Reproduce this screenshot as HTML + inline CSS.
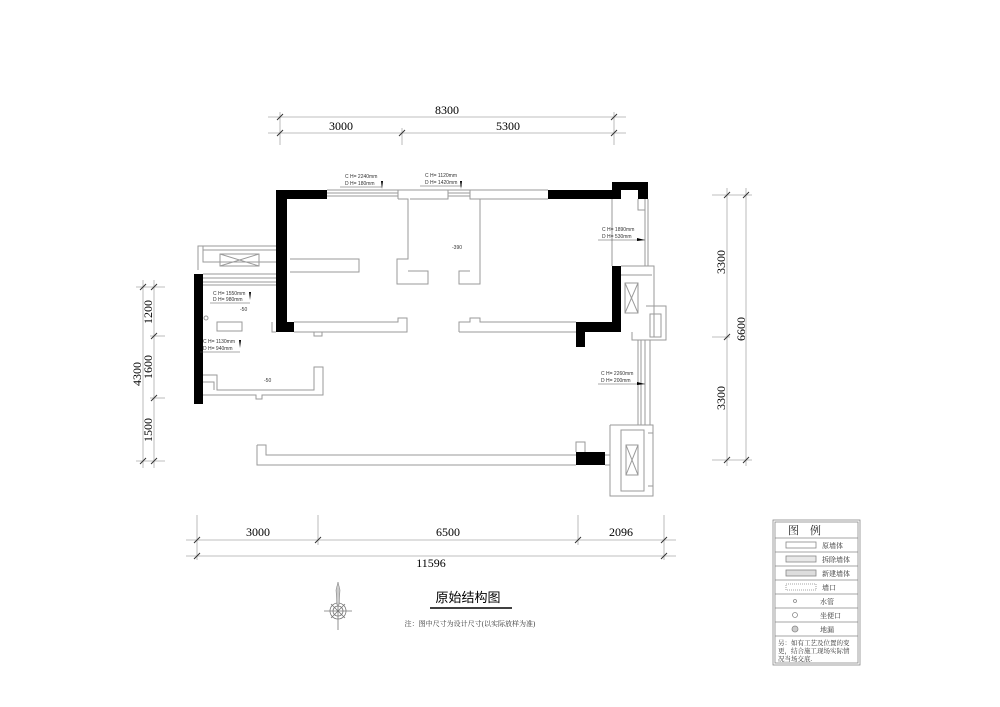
<!DOCTYPE html>
<html><head><meta charset="utf-8"><style>
html,body{margin:0;padding:0;background:#fff;}
svg{display:block;font-family:"Liberation Serif","Noto Serif CJK SC",serif;}
.w{fill:none;stroke:#9a9a9a;stroke-width:1;}
.d{stroke:#aaa;stroke-width:0.8;fill:none;}
.t{stroke:#333;stroke-width:1;}
.s{font-family:"Liberation Sans",sans-serif;font-size:5px;fill:#333;}
</style></head><body>
<svg width="1000" height="707" viewBox="0 0 1000 707">
<!-- top dims -->
<g class="d"><line x1="268" y1="117" x2="626" y2="117"/><line x1="268" y1="133" x2="626" y2="133"/>
<line x1="280" y1="112" x2="280" y2="145"/><line x1="402" y1="128" x2="402" y2="145"/><line x1="614" y1="112" x2="614" y2="145"/></g>
<g class="t"><line x1="277" y1="120" x2="283" y2="114"/><line x1="611" y1="120" x2="617" y2="114"/><line x1="277" y1="136" x2="283" y2="130"/><line x1="399" y1="136" x2="405" y2="130"/><line x1="611" y1="136" x2="617" y2="130"/></g>
<text x="447" y="114" font-size="12" text-anchor="middle">8300</text>
<text x="341" y="130" font-size="12" text-anchor="middle">3000</text>
<text x="508" y="130" font-size="12" text-anchor="middle">5300</text>
<!-- bottom dims -->
<g class="d"><line x1="186" y1="540" x2="676" y2="540"/><line x1="186" y1="556" x2="676" y2="556"/>
<line x1="197" y1="515" x2="197" y2="560"/><line x1="318" y1="515" x2="318" y2="545"/><line x1="578" y1="515" x2="578" y2="545"/><line x1="664" y1="515" x2="664" y2="560"/></g>
<g class="t"><line x1="194" y1="543" x2="200" y2="537"/><line x1="315" y1="543" x2="321" y2="537"/><line x1="575" y1="543" x2="581" y2="537"/><line x1="661" y1="543" x2="667" y2="537"/><line x1="194" y1="559" x2="200" y2="553"/><line x1="661" y1="559" x2="667" y2="553"/></g>
<text x="258" y="536" font-size="12" text-anchor="middle">3000</text>
<text x="448" y="536" font-size="12" text-anchor="middle">6500</text>
<text x="621" y="536" font-size="12" text-anchor="middle">2096</text>
<text x="431" y="567" font-size="12" text-anchor="middle">11596</text>
<!-- left dims -->
<g class="d"><line x1="143" y1="280" x2="143" y2="468"/><line x1="154" y1="280" x2="154" y2="468"/>
<line x1="136" y1="287" x2="165" y2="287"/><line x1="150" y1="336" x2="165" y2="336"/><line x1="150" y1="398" x2="165" y2="398"/><line x1="136" y1="461" x2="165" y2="461"/></g>
<g class="t"><line x1="140" y1="290" x2="146" y2="284"/><line x1="151" y1="290" x2="157" y2="284"/><line x1="151" y1="339" x2="157" y2="333"/><line x1="151" y1="401" x2="157" y2="395"/><line x1="140" y1="464" x2="146" y2="458"/><line x1="151" y1="464" x2="157" y2="458"/></g>
<text transform="translate(152,312) rotate(-90)" font-size="12" text-anchor="middle">1200</text>
<text transform="translate(152,367) rotate(-90)" font-size="12" text-anchor="middle">1600</text>
<text transform="translate(152,430) rotate(-90)" font-size="12" text-anchor="middle">1500</text>
<text transform="translate(141,374) rotate(-90)" font-size="12" text-anchor="middle">4300</text>
<!-- right dims -->
<g class="d"><line x1="727" y1="188" x2="727" y2="466"/><line x1="746" y1="188" x2="746" y2="466"/>
<line x1="712" y1="195" x2="752" y2="195"/><line x1="712" y1="337" x2="730" y2="337"/><line x1="712" y1="460" x2="752" y2="460"/></g>
<g class="t"><line x1="724" y1="198" x2="730" y2="192"/><line x1="743" y1="198" x2="749" y2="192"/><line x1="724" y1="340" x2="730" y2="334"/><line x1="724" y1="463" x2="730" y2="457"/><line x1="743" y1="463" x2="749" y2="457"/></g>
<text transform="translate(725,262) rotate(-90)" font-size="12" text-anchor="middle">3300</text>
<text transform="translate(725,398) rotate(-90)" font-size="12" text-anchor="middle">3300</text>
<text transform="translate(745,329) rotate(-90)" font-size="12" text-anchor="middle">6600</text>

<!-- wall outlines -->
<g class="w">
<polyline points="327,190 398,190 398,199"/><line x1="327" y1="193" x2="398" y2="193"/><line x1="327" y1="196" x2="398" y2="196"/>
<polyline points="398,190 548,190"/><line x1="448" y1="193" x2="470" y2="193"/><line x1="448" y1="196" x2="470" y2="196"/>
<polyline points="398,199 408,199 408,259 397,259 397,284 428,284 428,271 408,271"/>
<polyline points="448,190 448,199 410,199"/>
<polyline points="470,190 470,199 548,199"/>
<polyline points="470,199 480,199 480,284 459,284 459,271 470,271"/>
<polyline points="290,259 359,259 359,272 290,272"/>
<polyline points="203,246 203,262 276,262"/><polyline points="198,270 198,246 276,246"/>
<line x1="203" y1="250" x2="276" y2="250"/><line x1="203" y1="274" x2="276" y2="274"/><line x1="203" y1="278" x2="276" y2="278"/><line x1="203" y1="282" x2="276" y2="282"/><line x1="203" y1="285" x2="276" y2="285"/>
<rect x="220" y="254" width="39" height="12"/><line x1="220" y1="254" x2="259" y2="266"/><line x1="259" y1="254" x2="220" y2="266"/>
<rect x="217" y="322" width="25" height="9"/>
<polyline points="272,322 272,332 276,332"/>
<polyline points="294,322 398,322 398,318 407,318 407,332 294,332"/><polyline points="314,332 314,336 322,336 322,332"/>
<polyline points="459,332 459,322 470,322 470,318 480,318 480,322 576,322"/><line x1="459" y1="332" x2="576" y2="332"/>
<polyline points="203,395 256,395 256,399 262,399 262,395 323,395 323,367 314,367 314,390 217,390 217,375 203,375"/>
<polyline points="203,382 214,382 214,390"/>
<polyline points="257,445 257,465 576,465"/><polyline points="257,445 266,445 266,455 576,455"/>
<polyline points="576,452 576,442 585,442 585,452"/>
<!-- right side -->
<line x1="612" y1="199" x2="612" y2="266"/><polyline points="638,199 638,210 645,210 645,199"/>
<line x1="645" y1="210" x2="645" y2="266"/><line x1="648" y1="199" x2="648" y2="266"/>
<polyline points="621,266 654,266 654,337"/><rect x="625" y="283" width="13" height="30"/><line x1="625" y1="283" x2="638" y2="313"/><line x1="638" y1="283" x2="625" y2="313"/>
<polyline points="621,275 652,275"/>
<polyline points="646,306 666,306 666,340 632,340 632,332"/><rect x="650" y="314" width="11" height="23"/>
<line x1="638" y1="340" x2="638" y2="425"/><line x1="641" y1="340" x2="641" y2="425"/><line x1="645" y1="340" x2="645" y2="425"/><line x1="650" y1="340" x2="650" y2="425"/>
<polyline points="610,425 653,425 653,496 610,496 610,425"/><rect x="621" y="430" width="23" height="61"/>
<line x1="626" y1="445" x2="638" y2="475"/><line x1="638" y1="445" x2="626" y2="475"/><rect x="626" y="445" width="12" height="30"/>
<line x1="605" y1="455" x2="610" y2="455"/><line x1="605" y1="465" x2="610" y2="465"/>
<line x1="648" y1="433" x2="653" y2="433"/><line x1="648" y1="486" x2="653" y2="486"/>
</g>
<circle cx="206" cy="318" r="2" class="w"/>
<!-- black walls -->
<g fill="#000">
<rect x="276" y="190" width="51" height="9"/><rect x="276" y="190" width="11" height="142"/><rect x="276" y="322" width="18" height="10"/>
<rect x="548" y="190" width="72" height="9"/><rect x="612" y="182" width="36" height="8"/><rect x="612" y="182" width="9" height="17"/><rect x="638" y="182" width="10" height="17"/>
<rect x="612" y="266" width="9" height="66"/><rect x="576" y="322" width="45" height="10"/><rect x="576" y="332" width="9" height="15"/>
<rect x="194" y="274" width="9" height="130"/>
<rect x="576" y="452" width="29" height="13"/>
</g>
<!-- small labels -->
<g class="s">
<text x="345" y="178">C H= 2240mm</text><text x="345" y="185">D H= 180mm</text><line x1="340" y1="187" x2="382" y2="187" stroke="#555" stroke-width="0.5"/>
<text x="425" y="177">C H= 1120mm</text><text x="425" y="184">D H= 1420mm</text><line x1="420" y1="186" x2="462" y2="186" stroke="#555" stroke-width="0.5"/>
<text x="602" y="231">C H= 1890mm</text><text x="602" y="238">D H= 530mm</text><line x1="598" y1="240" x2="645" y2="240" stroke="#555" stroke-width="0.5"/>
<text x="213" y="295">C H= 1550mm</text><text x="213" y="301">D H= 980mm</text><line x1="210" y1="303" x2="250" y2="303" stroke="#555" stroke-width="0.5"/>
<text x="203" y="343">C H= 1130mm</text><text x="203" y="350">D H= 940mm</text><line x1="200" y1="352" x2="240" y2="352" stroke="#555" stroke-width="0.5"/>
<text x="601" y="375">C H= 2260mm</text><text x="601" y="382">D H= 200mm</text><line x1="598" y1="384" x2="645" y2="384" stroke="#555" stroke-width="0.5"/>
<text x="452" y="249">-390</text><text x="240" y="311">-50</text><text x="264" y="382">-50</text>
</g>
<g fill="#000"><polygon points="381,181 383,181 382,189"/><polygon points="460,181 462,181 461,189"/><polygon points="637,238 645,240 637,241"/><polygon points="249,292 251,292 250,300"/><polygon points="239,340 241,340 240,348"/><polygon points="637,382 645,384 637,385"/></g>
<!-- title -->
<text x="468" y="602" font-size="13" text-anchor="middle" font-family="Liberation Sans,Noto Sans CJK SC,sans-serif">原始结构图</text>
<line x1="430" y1="608" x2="512" y2="608" stroke="#000" stroke-width="1.5"/>
<text x="470" y="626" font-size="7" text-anchor="middle" fill="#333">注：图中尺寸为设计尺寸(以实际放样为准)</text>
<!-- compass -->
<g stroke="#777" fill="none" stroke-width="0.8"><circle cx="338" cy="611" r="8"/><circle cx="338" cy="611" r="5"/>
<line x1="338" y1="585" x2="338" y2="630"/><line x1="324" y1="611" x2="352" y2="611"/><line x1="331" y1="604" x2="345" y2="618"/><line x1="345" y1="604" x2="331" y2="618"/></g>
<polygon points="336,590 338,582 340,590 339,605 337,605" fill="#ccc" stroke="#777" stroke-width="0.5"/>
<!-- legend -->
<g fill="none" stroke="#888" stroke-width="0.8">
<rect x="773" y="520" width="87" height="145"/><rect x="775" y="522" width="83" height="141"/>
<line x1="775" y1="538" x2="858" y2="538"/><line x1="775" y1="552" x2="858" y2="552"/><line x1="775" y1="566" x2="858" y2="566"/><line x1="775" y1="580" x2="858" y2="580"/><line x1="775" y1="594" x2="858" y2="594"/><line x1="775" y1="608" x2="858" y2="608"/><line x1="775" y1="622" x2="858" y2="622"/><line x1="775" y1="636" x2="858" y2="636"/>
<rect x="786" y="542" width="30" height="6"/><rect x="786" y="556" width="30" height="6" fill="#e8e8e8"/><rect x="786" y="570" width="30" height="6" fill="#ddd"/><rect x="786" y="584" width="30" height="6" stroke-dasharray="1,1"/>
<circle cx="795" cy="601" r="1.5"/><circle cx="795" cy="615" r="2.5"/><circle cx="795" cy="629" r="3" fill="#ccc"/>
</g>
<g font-size="7" fill="#333">
<text x="788" y="534" font-size="11" fill="#222">图　例</text>
<text x="822" y="548">原墙体</text><text x="822" y="562">拆除墙体</text><text x="822" y="576">新建墙体</text><text x="822" y="590">墙口</text>
<text x="820" y="604">水管</text><text x="820" y="618">坐便口</text><text x="820" y="632">地漏</text>
<text x="778" y="645" font-size="6.5">另：如有工艺及位置的变</text><text x="778" y="653" font-size="6.5">更，结合施工现场实际情</text><text x="778" y="661" font-size="6.5">况当场交底.</text>
</g>
</svg>
</body></html>
